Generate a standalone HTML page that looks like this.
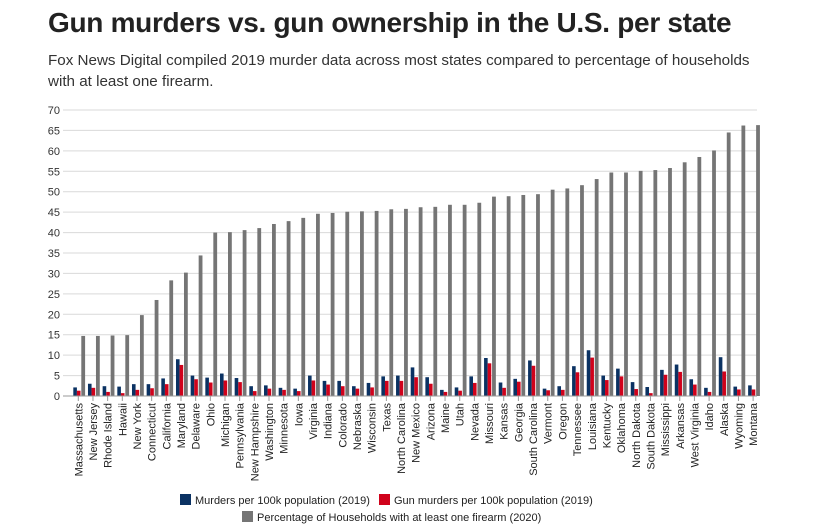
<!DOCTYPE html>
<html><head><meta charset="utf-8"><style>
body{margin:0;background:#fff;font-family:"Liberation Sans",sans-serif;}
#wrap{position:relative;width:817px;height:532px;overflow:hidden}
h1{position:absolute;left:48px;top:7px;margin:0;font-size:28px;font-weight:bold;color:#222;letter-spacing:-0.3px}
p{position:absolute;left:48px;top:50px;margin:0;font-size:15.2px;line-height:21px;color:#333;width:705px}
</style></head><body><div id="wrap">
<h1>Gun murders vs. gun ownership in the U.S. per state</h1>
<p>Fox News Digital compiled 2019 murder data across most states compared to percentage of households with at least one firearm.</p>
<svg id="c" width="817" height="532" style="position:absolute;left:0;top:0"></svg>
</div>
<script>
const states=["Massachusetts","New Jersey","Rhode Island","Hawaii","New York","Connecticut","California","Maryland","Delaware","Ohio","Michigan","Pennsylvania","New Hampshire","Washington","Minnesota","Iowa","Virginia","Indiana","Colorado","Nebraska","Wisconsin","Texas","North Carolina","New Mexico","Arizona","Maine","Utah","Nevada","Missouri","Kansas","Georgia","South Carolina","Vermont","Oregon","Tennessee","Louisiana","Kentucky","Oklahoma","North Dakota","South Dakota","Mississippi","Arkansas","West Virginia","Idaho","Alaska","Wyoming","Montana"];
const murders=[2.1,3.0,2.4,2.3,2.9,2.9,4.3,9.0,5.0,4.5,5.5,4.4,2.4,2.6,2.0,1.8,5.0,3.7,3.7,2.4,3.2,4.8,5.0,7.0,4.6,1.5,2.1,4.8,9.3,3.3,4.2,8.7,1.8,2.4,7.3,11.2,5.0,6.7,3.4,2.2,6.4,7.7,4.1,2.0,9.5,2.3,2.6];
const gunMurders=[1.3,2.0,1.0,0.7,1.5,1.9,2.9,7.6,4.1,3.3,3.8,3.4,1.2,1.8,1.5,1.2,3.8,2.8,2.4,1.8,2.1,3.7,3.7,4.6,3.0,1.0,1.3,3.2,8.0,2.0,3.5,7.4,1.4,1.5,5.8,9.4,3.9,4.8,1.7,0.7,5.2,5.9,2.8,1.0,6.0,1.6,1.6];
const ownership=[14.7,14.7,14.8,14.9,19.8,23.5,28.3,30.2,34.4,40.0,40.1,40.6,41.1,42.1,42.8,43.6,44.6,44.8,45.1,45.2,45.3,45.7,45.8,46.2,46.3,46.8,46.8,47.3,48.8,48.9,49.2,49.4,50.5,50.8,51.6,53.1,54.7,54.7,55.1,55.3,55.8,57.2,58.5,60.1,64.5,66.2,66.3];
const yTicks=[0,5,10,15,20,25,30,35,40,45,50,55,60,65,70];
const legendLabels=["Murders per 100k population (2019)","Gun murders per 100k population (2019)","Percentage of Households with at least one firearm (2020)"];
const colors=["#0b3263","#d0021b","#757575"];
const svg=document.getElementById('c'),NS="http://www.w3.org/2000/svg";
const y0=396,yTop=110,yMax=70,x0=63,x1=757,step=14.67,bx=73.3;
const Y=v=>y0-(v/yMax)*(y0-yTop);
const X=i=>bx+i*step;
function mk(t,a){const e=document.createElementNS(NS,t);for(const k in a)e.setAttribute(k,a[k]);svg.appendChild(e);return e;}
yTicks.forEach(v=>{
 const g=mk('line',{x1:x0,x2:x1,y1:Y(v),y2:Y(v),stroke:'#d9d9d9','stroke-width':1});
 
 
 const t=mk('text',{x:60,y:Y(v)+4,'text-anchor':'end','font-size':11,fill:'#333'});t.textContent=v;
 
 
});
states.forEach((s,i)=>{
 const x=X(i);
 const b=mk('rect',{x:x,y:Y(murders[i]),width:3.6,height:y0-Y(murders[i]),fill:colors[0]});
 
 
 const r=mk('rect',{x:x+3.6,y:Y(gunMurders[i]),width:3.6,height:y0-Y(gunMurders[i]),fill:colors[1]});
 
 
 const g=mk('rect',{x:x+8,y:Y(ownership[i]),width:3.8,height:y0-Y(ownership[i]),fill:colors[2]});
 
 
 const tk=mk('line',{x1:x+5,x2:x+5,y1:y0,y2:y0+5,stroke:'#999'});
 
 
 const t=mk('text',{x:0,y:0,'text-anchor':'end','font-size':11,fill:'#222',transform:`translate(${x+9},${y0+7}) rotate(-90)`});
 t.textContent=s;
 
 
});
const ax=mk('line',{x1:x0,x2:x1,y1:y0,y2:y0,stroke:'#999'});


legendLabels.forEach((l,i)=>{
 const yy=[494,494,511][i], xx=[180,379,242][i];
 const sw=mk('rect',{x:xx,y:yy,width:11,height:11,fill:colors[i]});
 
 
 const t=mk('text',{x:xx+15,y:yy+10,'font-size':11,fill:'#222'});t.textContent=l;
 
 
});
</script></body></html>
